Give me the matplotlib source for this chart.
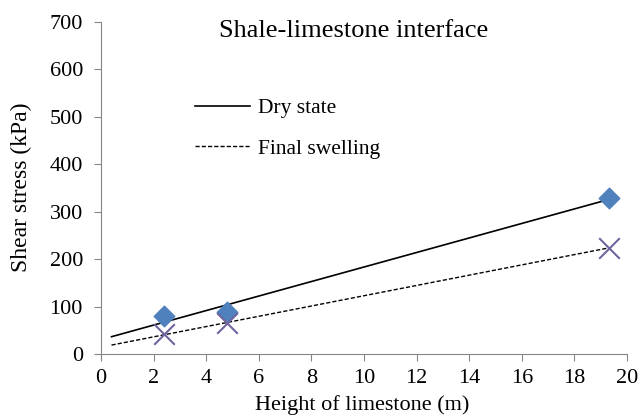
import matplotlib.pyplot as plt
import numpy as np

plt.rcParams['font.family'] = ['Liberation Serif', 'DejaVu Serif']

# Data
height = np.array([2.4, 4.8, 19.3])
dry_state = np.array([80, 89, 328])
final_swelling = np.array([42, 65, 224])

x_ticks = np.arange(0, 21, 2)
y_ticks = np.arange(0, 701, 100)

fig = plt.figure(figsize=(6.38, 4.19), dpi=100)
ax = fig.add_axes([0.1583, 0.155, 0.8245, 0.7924])

# Linear trendlines
x_fit = np.array([0.4, 19.3])
p_dry = np.polyfit(height, dry_state, 1)
p_sw = np.polyfit(height, final_swelling, 1)
ax.plot(x_fit, np.polyval(p_dry, x_fit), color='black', lw=1.2, label='Dry state')
ax.plot(x_fit, np.polyval(p_sw, x_fit), color='black', lw=1.0, ls=(0, (3, 1.5)),
        label='Final swelling')

# Data points
ax.scatter(height, dry_state, marker='D', s=110, color='#4F81BD', zorder=3)
ax.scatter(height, final_swelling, marker='x', s=220, color='#7064A0', lw=1.5, zorder=3)

ax.set_xlim(0, 20)
ax.set_ylim(0, 700)
ax.set_xticks(x_ticks)
ax.set_yticks(y_ticks)
ax.tick_params(direction='out', length=5, color='#868686', labelsize=16)
ax.tick_params(axis='y', pad=8)
ax.tick_params(axis='x', pad=6)

for side in ['top', 'right']:
    ax.spines[side].set_visible(False)
for side in ['left', 'bottom']:
    ax.spines[side].set_color('#868686')

ax.set_xlabel('Height of limestone (m)', fontsize=16)
ax.set_ylabel('Shear stress (kPa)', fontsize=17)
ax.xaxis.set_label_coords(0.496, -0.123)
ax.yaxis.set_label_coords(-0.132, 0.503)
ax.text(0.48, 0.955, 'Shale-limestone interface', transform=ax.transAxes,
        ha='center', va='baseline', fontsize=19)

ax.legend(loc='upper left', bbox_to_anchor=(0.179, 0.77), frameon=False,
          fontsize=15.5, handlelength=2.55, handletextpad=0.37, labelspacing=0.95,
          borderpad=0, borderaxespad=0)

fig.savefig('out.png', dpi=100)
